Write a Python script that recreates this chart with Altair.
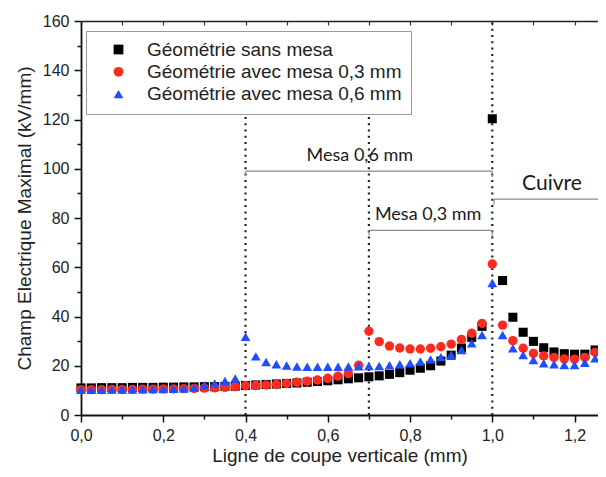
import altair as alt
import pandas as pd

x_mm = [0.0, 0.025, 0.05, 0.075, 0.1, 0.125, 0.15, 0.175, 0.2, 0.225, 0.25, 0.275,
        0.3, 0.325, 0.35, 0.375, 0.4, 0.425, 0.45, 0.475, 0.5, 0.525, 0.55, 0.575,
        0.6, 0.625, 0.65, 0.675, 0.7, 0.725, 0.75, 0.775, 0.8, 0.825, 0.85, 0.875,
        0.9, 0.925, 0.95, 0.975, 1.0, 1.025, 1.05, 1.075, 1.1, 1.125, 1.15, 1.175,
        1.2, 1.225, 1.25, 1.275]

sans_mesa = [11.0, 11.0, 11.1, 11.1, 11.1, 11.2, 11.2, 11.2, 11.3, 11.3, 11.4, 11.4,
             11.5, 11.5, 11.6, 11.7,
             12.0, 12.2, 12.4, 12.6, 12.8, 13.0, 13.3, 13.6, 13.9, 14.3, 14.7, 15.1,
             15.5, 15.9, 16.5, 17.2, 18.2, 19.0, 20.0, 21.9, 24.3, 27.2, 31.5, 36.0,
             120.3, 54.6, 39.7, 33.6, 29.9, 27.3, 25.6, 24.9, 24.7, 24.7, 26.4, 30.7]

mesa_03 = [10.3, 10.3, 10.3, 10.4, 10.4, 10.4, 10.5, 10.5, 10.6, 10.6, 10.7, 10.8,
           10.9, 11.0, 11.2, 11.5,
           11.9, 12.0, 12.2, 12.4, 12.8, 13.3, 13.7, 14.2, 14.9, 15.8, 16.8, 20.2,
           34.0, 29.8, 28.0, 27.2, 26.8, 26.8, 27.1, 27.7, 28.8, 30.7, 33.2, 37.2,
           61.3, 36.5, 30.2, 27.1, 25.0, 24.0, 23.4, 22.8, 22.7, 23.4, 25.5, 29.0]

mesa_06 = [10.2, 10.2, 10.2, 10.3, 10.3, 10.3, 10.4, 10.5, 10.5, 10.6, 10.7, 11.2,
           12.0, 12.8, 13.8, 14.8,
           31.8, 23.8, 21.5, 20.6, 20.1, 19.7, 19.6, 19.6, 19.6, 19.6, 19.7, 19.8,
           19.9, 19.9, 20.2, 20.6, 21.0, 21.7, 22.6, 23.5, 24.5, 26.4, 29.1, 32.5,
           53.6, 32.5, 27.1, 24.4, 22.3, 21.0, 20.6, 20.3, 20.3, 21.2, 23.0, 27.3]

series_names = ["Géométrie sans mesa", "Géométrie avec mesa 0,3 mm", "Géométrie avec mesa 0,6 mm"]
series_colors = ["#000000", "#ff2a1f", "#1f4dff"]
series_shapes = ["square", "circle", "triangle-up"]
series_sizes = [82, 95, 135]

x_major = [0.0, 0.2, 0.4, 0.6, 0.8, 1.0, 1.2]
x_minor = [0.1, 0.3, 0.5, 0.7, 0.9, 1.1]
x_top = [0.1, 0.2, 0.3, 0.4, 0.5, 0.6, 0.7, 0.8, 0.9, 1.0, 1.1, 1.2]
y_major = [0, 20, 40, 60, 80, 100, 120, 140, 160]
y_minor = [10, 30, 50, 70, 90, 110, 130, 150]

# annotations
vlines_x = [0.4, 0.7, 1.0]
vlines_top = [122.6, 122.6, 160]
brackets_x = [0.4, 0.7, 1.004]
brackets_x2 = [1.0, 1.0, 1.257]
brackets_y = [99.0, 75.0, 87.7]
brackets_tick_x = [0.4, 1.0, 0.7, 1.0, 1.004]
brackets_tick_y = [99.0, 99.0, 75.0, 75.0, 87.7]
brackets_tick_y2 = [97.0, 96.5, 73.0, 72.5, 85.5]
labels_text = ["Mesa 0,6 mm", "Mesa 0,3 mm", "Cuivre"]
labels_x = [0.678, 0.844, 1.145]
labels_y = [105.0, 81.2, 93.8]
labels_size = [18, 18, 21]

rows = []
for name, vals in zip(series_names, [sans_mesa, mesa_03, mesa_06]):
    for xv, yv in zip(x_mm, vals):
        rows.append({"x": xv, "y": yv, "series": name})
df = pd.DataFrame(rows)

W, H = 517, 394
xscale = alt.Scale(domain=[0, 1.257], nice=False, zero=False)
yscale = alt.Scale(domain=[0, 160], nice=False)
FONT = "Liberation Sans"
TXT = "#222222"

comma = "replace(format(datum.value, '.1f'), '.', ',')"

leg = alt.Legend(title=None, orient="none", legendX=5, legendY=10,
                 labelFontSize=19, labelFont=FONT, labelColor=TXT,
                 symbolSize=95, symbolOffset=14, labelOffset=19,
                 padding=9, rowPadding=2.3, strokeColor="#999999",
                 fillColor="white", symbolStrokeWidth=0, labelLimit=400)

points = alt.Chart(df).mark_point(filled=True, opacity=1, strokeWidth=0).encode(
    x=alt.X("x:Q", scale=xscale,
            axis=alt.Axis(orient="bottom", values=x_major, labelExpr=comma, tickSize=7,
                          tickWidth=1.5, domainWidth=1.8, domainColor="#111", tickColor="#111",
                          labelFontSize=16, labelFont=FONT, labelColor=TXT, labelPadding=5,
                          labelFlush=False,
                          title="Ligne de coupe verticale (mm)", titleFontSize=19,
                          titleFont=FONT, titleFontWeight="normal", titleColor=TXT,
                          titlePadding=3, grid=False)),
    y=alt.Y("y:Q", scale=yscale,
            axis=alt.Axis(orient="left", values=y_major, tickSize=7, tickWidth=1.5,
                          domainWidth=1.8, domainColor="#111", tickColor="#111",
                          labelFontSize=16, labelFont=FONT, labelColor=TXT, labelPadding=5,
                          labelFlush=False,
                          title="Champ Electrique Maximal (kV/mm)", titleFontSize=19,
                          titleFont=FONT, titleFontWeight="normal", titleColor=TXT,
                          titlePadding=8, grid=False)),
    color=alt.Color("series:N", scale=alt.Scale(domain=series_names, range=series_colors),
                    legend=leg),
    shape=alt.Shape("series:N", scale=alt.Scale(domain=series_names, range=series_shapes),
                    legend=leg),
    size=alt.Size("series:N", scale=alt.Scale(domain=series_names, range=series_sizes),
                  legend=None),
    order=alt.Order("order:Q"),
).transform_calculate(
    order="indexof(['%s','%s','%s'], datum.series)" % tuple(series_names)
)

minor_x = alt.Chart(df).mark_point(opacity=0).encode(
    x=alt.X("x:Q", scale=xscale,
            axis=alt.Axis(values=x_minor, tickSize=4, tickWidth=1.5, tickColor="#111",
                          labels=False, domain=False, title=None, grid=False,
                          orient="bottom")),
    y=alt.Y("y:Q", scale=yscale,
            axis=alt.Axis(values=y_minor, tickSize=4, tickWidth=1.5, tickColor="#111",
                          labels=False, domain=False, title=None, grid=False,
                          orient="left")),
)

top_x = alt.Chart(df).mark_point(opacity=0).encode(
    x=alt.X("x:Q", scale=xscale,
            axis=alt.Axis(values=x_top, tickSize=4, tickWidth=1.2, tickColor="#333",
                          labels=False, domain=True, domainWidth=1.5, domainColor="#222",
                          title=None, grid=False, orient="bottom", offset=-H)),
    y=alt.Y("y:Q", scale=yscale, axis=None),
)

vdf = pd.DataFrame({"x": vlines_x, "y0": [0, 0, 0], "y1": vlines_top})
vlines = alt.Chart(vdf).mark_rule(color="#222", strokeWidth=2.2, strokeDash=[2, 4.3]).encode(
    x=alt.X("x:Q", scale=xscale, axis=None),
    y=alt.Y("y0:Q", scale=yscale, axis=None),
    y2="y1:Q",
)

bdf = pd.DataFrame({"x": brackets_x, "x2": brackets_x2, "y": brackets_y})
brackets = alt.Chart(bdf).mark_rule(color="#8a8a8a", strokeWidth=1.2).encode(
    x=alt.X("x:Q", scale=xscale, axis=None),
    x2="x2:Q",
    y=alt.Y("y:Q", scale=yscale, axis=None),
)

tdf = pd.DataFrame({"x": brackets_tick_x, "y": brackets_tick_y, "y2": brackets_tick_y2})
bticks = alt.Chart(tdf).mark_rule(color="#8a8a8a", strokeWidth=1.2).encode(
    x=alt.X("x:Q", scale=xscale, axis=None),
    y=alt.Y("y:Q", scale=yscale, axis=None),
    y2="y2:Q",
)

ldf = pd.DataFrame({"x": labels_x, "y": labels_y, "t": labels_text, "s": labels_size})
labels = alt.Chart(ldf).mark_text(font="Lato", color="#1a1a1a", align="center",
                                  baseline="middle").encode(
    x=alt.X("x:Q", scale=xscale, axis=None),
    y=alt.Y("y:Q", scale=yscale, axis=None),
    text="t:N",
    size=alt.Size("s:Q", scale=None, legend=None),
)

chart = alt.layer(vlines, brackets, bticks, labels, minor_x, top_x, points).resolve_axis(
    x="independent", y="independent"
).resolve_scale(size="independent").properties(
    width=W, height=H,
    autosize=alt.AutoSizeParams(type="none"),
    padding={"left": 73, "top": 13, "right": 0, "bottom": 54},
    background="white",
).configure_view(stroke=None)

chart.save("out.html", embed_options={"renderer": "svg", "actions": False})
